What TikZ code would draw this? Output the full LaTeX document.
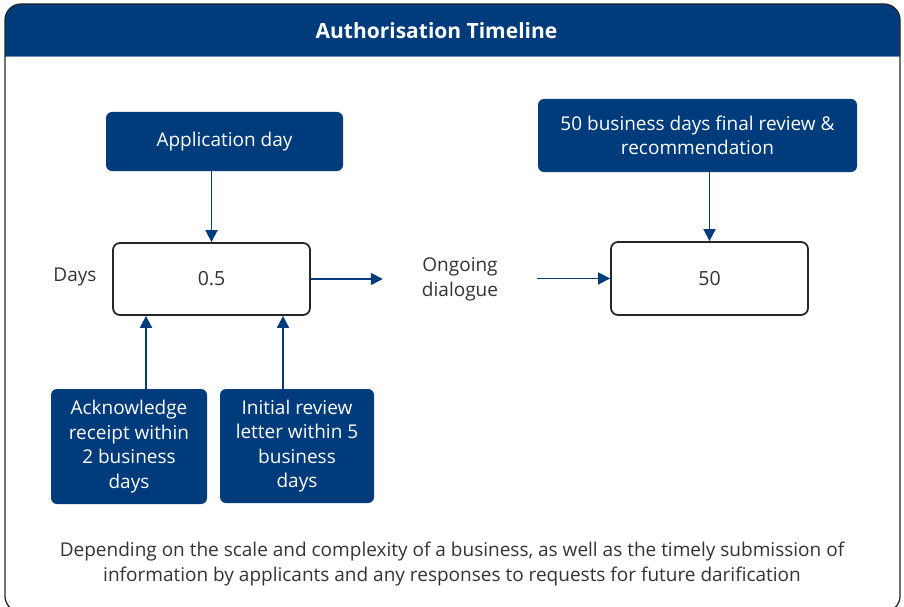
\documentclass[tikz,border=0pt]{standalone}
\usepackage{fontspec}
\setmainfont{Open Sans}
\usetikzlibrary{arrows.meta,calc}
\definecolor{navy}{HTML}{003B7B}
\definecolor{rule}{HTML}{6F8FB8}
\definecolor{ink}{HTML}{333333}
\definecolor{edge}{HTML}{262626}
\tikzset{
  bluebox/.style={draw=none, fill=navy, rounded corners=6pt, text=white, align=center,
    font=\fontsize{19}{24.5}\selectfont, inner sep=0pt},
  daybox/.style={draw=edge, line width=1.8pt, fill=white, rounded corners=7pt, text=ink,
    font=\fontsize{19.5}{24}\selectfont, inner sep=0pt},
  plain/.style={text=ink, align=center, font=\fontsize{19}{25}\selectfont, inner sep=0pt},
  link/.style={draw=navy, line width=1.8pt, -{Triangle[length=12pt,width=12pt]}},
}
\begin{document}
\begin{tikzpicture}[x=1pt,y=-1pt]
\useasboundingbox (0,0) rectangle (904,607);
% outer frame and title band
\begin{scope}
  \clip (0,0) rectangle (904,607);
  \begin{scope}
    \clip[rounded corners=16pt] (5,4) rectangle (900,612);
    \fill[navy] (0,0) rectangle (904,56);
    \draw[rule, line width=0.8pt] (0,56) -- (904,56);
  \end{scope}
  \draw[edge, line width=1.3pt, rounded corners=16pt] (5,4) rectangle (900,612);
\end{scope}
\node[text=white, font=\fontsize{21}{24}\bfseries\selectfont, inner sep=0pt] (title) at (436.5,31) {Authorisation Timeline};

% milestone boxes
\node[bluebox, minimum width=237pt, minimum height=59pt] (app) at (224.5,141.5) {Application day};
\node[daybox, minimum width=197pt, minimum height=72pt] (first) at (211.5,279) {\raisebox{-2pt}{0.5}};
\node[plain] (days) at (75,277) {Days};
\node[plain] (ongoing) at (460,279) {Ongoing\\dialogue};
\node[daybox, minimum width=197pt, minimum height=73pt] (last) at (709.5,278.5) {\raisebox{-1pt}{50}};
\node[bluebox, minimum width=319pt, minimum height=73pt] (final) at (697.5,135.5) {50 business days final review \&\\recommendation};
\node[bluebox, minimum width=156pt, minimum height=115pt] (ack) at (129,446.5) {Acknowledge\\receipt within\\2 business\\days};
\node[bluebox, minimum width=154pt, minimum height=114pt] (init) at (297,446) {Initial review\\letter within 5\\business\\days};

% footer note
\node[plain, font=\fontsize{19}{25}\selectfont] (note) at (452,564) {Depending on the scale and complexity of a business, as well as the timely submission of\\information by applicants and any responses to requests for future darification};

% connectors
\draw[link] (app.south -| first.north) -- (first.north);
\draw[link] (final.south -| last.north) -- (last.north);
\draw[link] ([xshift=17pt]ack.north) -- ([xshift=17pt]ack.north |- first.south);
\draw[link] ([xshift=-14pt]init.north) -- ([xshift=-14pt]init.north |- first.south);
\draw[link] (first.east) -- ([xshift=-39pt]ongoing.west |- first.east);
\draw[link] ([xshift=39pt]ongoing.east |- last.west) -- (last.west);
\end{tikzpicture}
\end{document}
